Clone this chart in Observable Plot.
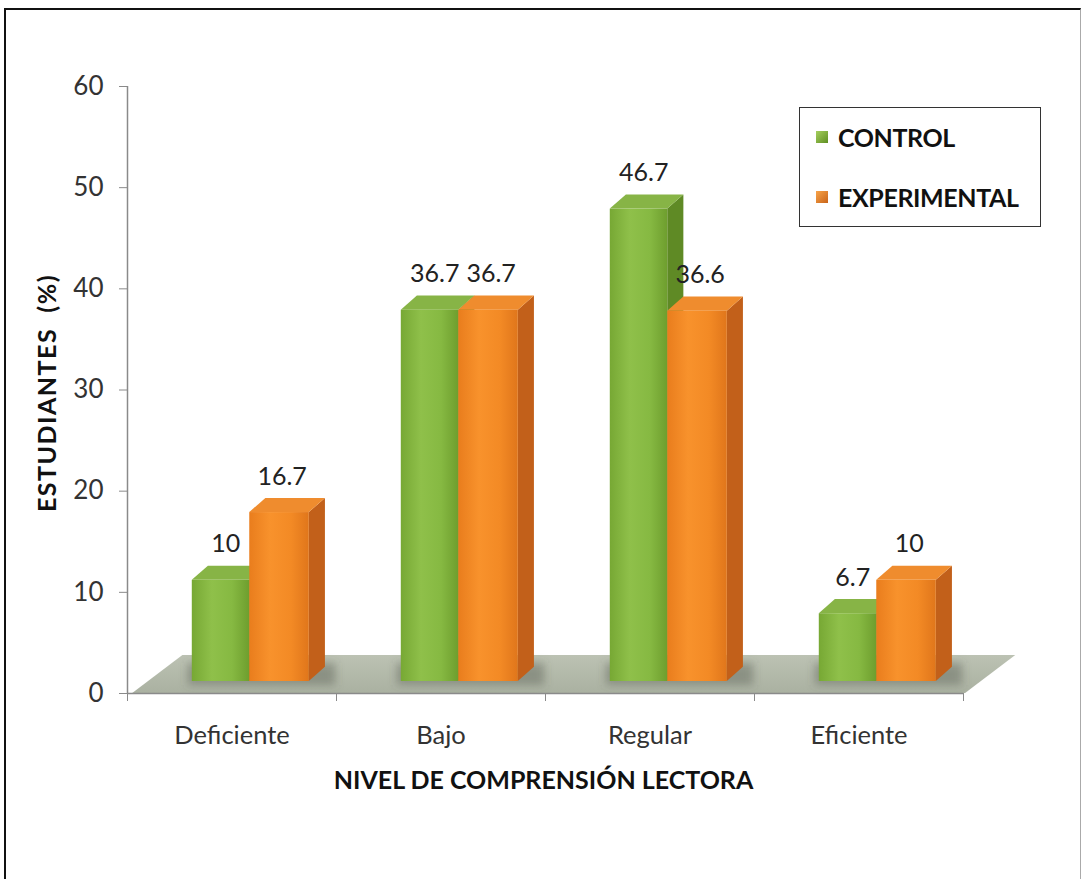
<!DOCTYPE html>
<html>
<head>
<meta charset="utf-8">
<script src="https://cdn.jsdelivr.net/npm/d3@7"></script>
<script src="https://cdn.jsdelivr.net/npm/@observablehq/plot@0.6"></script>
<style>
  html, body { margin: 0; padding: 0; background: #fff; }
  #wrap { position: relative; width: 1082px; height: 879px; overflow: hidden; font-family: Lato, "Open Sans", sans-serif; }
  #frame { position: absolute; left: 4px; top: 8px; width: 1074px; height: 900px; border-top: 2px solid #111; border-left: 2px solid #111; border-right: 1px solid #aaa; }
  #chart { position: absolute; left: 0; top: 0; }
  #legend { position: absolute; left: 799px; top: 107px; width: 240px; height: 118px; border: 1.5px solid #333; background: #fff; }
  .li { position: absolute; left: 16px; display: flex; align-items: center; font-weight: bold; font-size: 25px; color: #111; letter-spacing: -0.4px; }
  .sw { width: 12px; height: 12px; margin-right: 10px; }
</style>
</head>
<body>
<div id="wrap">
  <div id="frame"></div>
  <div id="chart"></div>
  <div id="legend">
    <div class="li" style="top:14px"><span class="sw" style="background:linear-gradient(135deg,#a6cf5e,#5f8f22)"></span>CONTROL</div>
    <div class="li" style="top:74px"><span class="sw" style="background:linear-gradient(135deg,#f8a449,#c9641a)"></span>EXPERIMENTAL</div>
  </div>
</div>
<script>
// ---- data ----
const categories = ["Deficiente", "Bajo", "Regular", "Eficiente"];
const control = [10, 36.7, 46.7, 6.7];
const experimental = [16.7, 36.7, 36.6, 10];
const seriesNames = ["CONTROL", "EXPERIMENTAL"];
const yTicks = [0, 10, 20, 30, 40, 50, 60];

// ---- layout / style constants ----
const W = 1082, H = 879;
const depthX = 0.077;   // 3D depth in x-index units
const depthY = 1.4;     // 3D depth in y units
const baseDy = -12;     // front face base offset (px)
const slots = [[-0.19, 0.085], [0.085, 0.37]]; // front-face x offsets per series
const labelOffset = [-0.03, 0.24];
const SHADOW = "#4f5648";

const bars = [];
categories.forEach((c, i) => {
  [control, experimental].forEach((arr, s) => {
    bars.push({cat: c, i, s, series: seriesNames[s], v: arr[i],
      x1: i + slots[s][0], x2: i + slots[s][1], key: c + "-" + s});
  });
});
const sideData = [], topData = [];
for (const b of bars) {
  sideData.push({key: b.key, s: b.s, x: b.x2, y1: 0, y2: b.v});
  sideData.push({key: b.key, s: b.s, x: b.x2 + depthX, y1: depthY, y2: b.v + depthY});
  topData.push({key: b.key, s: b.s, y: b.v, x1: b.x1, x2: b.x2});
  topData.push({key: b.key, s: b.s, y: b.v + depthY, x1: b.x1 + depthX, x2: b.x2 + depthX});
}
const floorData = [
  {y: 0, x1: -0.475, x2: 3.51},
  {y: 3.75, x1: -0.235, x2: 3.75}
];
const shadowData = categories.map((c, i) => ({x1: i + slots[0][0] - 0.02, x2: i + slots[1][1] + depthX + 0.05}));

const fills = {
  front: ["url(#gFront0)", "url(#gFront1)"],
  side: ["#5f8a25", "#c2601a"],
  top: ["#87b446", "#ef8c2e"]
};

const marks = [
  Plot.areaX(floorData, {y: "y", x1: "x1", x2: "x2", fill: "url(#gFloor)", curve: "linear"}),
  Plot.rect(shadowData, {x1: "x1", x2: "x2", y1: -0.4, y2: 1.8, fill: SHADOW, fillOpacity: 0.4, dy: baseDy})
];
for (const s of [0, 1]) {
  const fs = d => d.s === s;
  marks.push(Plot.areaY(sideData.filter(fs), {x: "x", y1: "y1", y2: "y2", z: "key", fill: fills.side[s], dy: baseDy, curve: "linear"}));
  marks.push(Plot.areaX(topData.filter(fs), {y: "y", x1: "x1", x2: "x2", z: "key", fill: fills.top[s], dy: baseDy, curve: "linear"}));
  marks.push(Plot.rect(bars.filter(fs), {x1: "x1", x2: "x2", y1: 0, y2: "v", fill: fills.front[s], dy: baseDy}));
}
marks.push(
  Plot.ruleX([-0.5], {y1: 0, y2: 60, stroke: "#8a8a8a", strokeWidth: 1.5}),
  Plot.ruleY([0], {x1: -0.5, x2: 3.5, stroke: "#8a8a8a", strokeWidth: 1.5}),
  Plot.axisY({ticks: yTicks, tickSize: 8, tickPadding: 16, fontSize: 26, stroke: "#8a8a8a", color: "#333", label: null}),
  Plot.axisX({ticks: [-0.5, 0.5, 1.5, 2.5, 3.5], tickFormat: () => "", tickSize: 8, stroke: "#8a8a8a", label: null}),
  Plot.axisX({ticks: [0, 1, 2, 3], tickFormat: i => categories[i], tickSize: 0, tickPadding: 32, fontSize: 25.5, color: "#333", label: null}),
  Plot.text(bars, {x: d => d.i + labelOffset[d.s], y: "v", text: d => String(d.v), dy: -48, fontSize: 25, fill: "#222"}),
  Plot.text(["NIVEL DE COMPRENSIÓN LECTORA"], {frameAnchor: "bottom", dy: 95, dx: -2, fontSize: 25, fontWeight: "bold", fill: "#111"}),
  Plot.text(["ESTUDIANTES  (%)"], {frameAnchor: "left", textAnchor: "middle", rotate: -90, dx: -80, dy: 3, fontSize: 25, fontWeight: "bold", fill: "#111"})
);

const svg = Plot.plot({
  width: W, height: H,
  marginTop: 86, marginBottom: 186, marginLeft: 127, marginRight: 119,
  x: {type: "linear", domain: [-0.5, 3.5], axis: null},
  y: {domain: [0, 60], axis: null},
  style: {fontFamily: "Lato, 'Open Sans', sans-serif", background: "transparent", overflow: "visible"},
  marks
});

const defs = d3.select(svg).insert("defs", ":first-child");
function grad(id, stops) {
  const g = defs.append("linearGradient").attr("id", id).attr("x1", "0").attr("x2", "1").attr("y1", "0").attr("y2", "0");
  stops.forEach(([o, c]) => g.append("stop").attr("offset", o).attr("stop-color", c));
}
grad("gFront0", [[0, "#77a834"], [0.35, "#8fc04a"], [0.7, "#86b942"], [1, "#6e9e2e"]]);
grad("gFront1", [[0, "#e97d1d"], [0.35, "#f8922c"], [0.7, "#f38a25"], [1, "#e0761b"]]);
const gf = defs.append("linearGradient").attr("id", "gFloor").attr("x1", "0").attr("x2", "0").attr("y1", "0").attr("y2", "1");
gf.append("stop").attr("offset", 0).attr("stop-color", "#bcc2b3");
gf.append("stop").attr("offset", 1).attr("stop-color", "#aab1a1");
defs.append("filter").attr("id", "blur").attr("x", "-50%").attr("y", "-50%").attr("width", "200%").attr("height", "200%")
  .append("feGaussianBlur").attr("stdDeviation", 4);
d3.select(svg).selectAll("g, rect").filter(function() { return this.getAttribute("fill") === SHADOW; })
  .attr("filter", "url(#blur)");
d3.select(svg).selectAll("text").filter(function() { return this.textContent.startsWith("ESTUDIANTES"); })
  .attr("xml:space", "preserve").style("white-space", "pre").style("letter-spacing", "1.5px");

document.getElementById("chart").appendChild(svg);
</script>
</body>
</html>
